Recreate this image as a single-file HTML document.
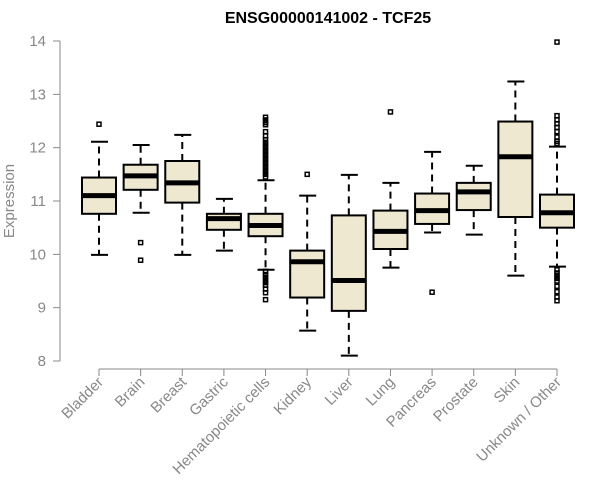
<!DOCTYPE html>
<html><head><meta charset="utf-8"><style>
body{margin:0;background:#fff;}
svg{display:block;font-family:"Liberation Sans",Arial,sans-serif;}
</style></head><body>
<svg id="chart" width="600" height="500">
<text x="328" y="23" text-anchor="middle" font-weight="bold" font-size="16">ENSG00000141002 - TCF25</text>
<text transform="translate(14,201) rotate(-90)" text-anchor="middle" font-size="15" fill="#888">Expression</text>
<g id="axes"></g><g id="boxes"></g>
</svg>
<script>
const categories=["Bladder","Brain","Breast","Gastric","Hematopoietic cells","Kidney","Liver","Lung","Pancreas","Prostate","Skin","Unknown / Other"];
const whiskerLow=[9.99,10.78,9.99,10.07,9.71,8.57,8.10,9.75,10.41,10.37,9.60,9.77];
const q1=[10.76,11.21,10.97,10.46,10.34,9.19,8.94,10.10,10.57,10.83,10.70,10.50];
const medians=[11.10,11.47,11.34,10.67,10.54,9.86,9.51,10.43,10.82,11.17,11.83,10.78];
const q3=[11.44,11.68,11.75,10.76,10.76,10.07,10.73,10.82,11.14,11.34,12.49,11.12];
const whiskerHigh=[12.11,12.05,12.24,11.04,11.39,11.10,11.49,11.34,11.92,11.66,13.24,12.02];
const outliers=[[12.44],[10.22,9.89],[],[],[12.57,12.52,12.47,12.43,12.3,12.22,12.15,12.1,12.05,12.0,11.95,11.9,11.85,11.8,11.75,11.7,11.65,11.6,11.55,11.5,11.45,9.68,9.62,9.57,9.52,9.47,9.42,9.35,9.28,9.15],[11.50],[],[12.67],[9.29],[],[],[13.98,12.6,12.52,12.45,12.38,12.3,12.2,12.12,12.08,9.71,9.65,9.6,9.55,9.5,9.4,9.3,9.2,9.13]];
const yTicks=[8,9,10,11,12,13,14];
const NS="http://www.w3.org/2000/svg";
const y=v=>361-(v-8)*320/6;
const x=i=>99+i*(557-99)/11;
function mk(tag,attrs,parent){const e=document.createElementNS(NS,tag);for(const k in attrs)e.setAttribute(k,attrs[k]);parent.appendChild(e);return e;}
const axes=document.getElementById('axes'),boxes=document.getElementById('boxes');
let a=mk('line',{x1:60,x2:60,y1:y(8),y2:y(14),stroke:'#888','stroke-width':1},axes);


yTicks.forEach(t=>{
  let l=mk('line',{x1:53,x2:60,y1:y(t),y2:y(t),stroke:'#888'},axes);
  
  
  let tx=mk('text',{x:46,y:y(t)+5,'text-anchor':'end','font-size':15,fill:'#888'},axes);
  tx.textContent=t;
  
  
});
a=mk('line',{x1:x(0),x2:x(11),y1:369,y2:369,stroke:'#888'},axes);


categories.forEach((c,i)=>{
  const cx=x(i),hw=17;
  let l=mk('line',{x1:cx,x2:cx,y1:369,y2:376,stroke:'#888'},axes);
  
  
  let tx=mk('text',{transform:`translate(${cx+5},${383}) rotate(-45)`,'text-anchor':'end','font-size':15,fill:'#888'},axes);
  tx.textContent=c;
  
  
  const g=mk('g',{},boxes);
  
  
  mk('line',{x1:cx,x2:cx,y1:y(q3[i]),y2:y(whiskerHigh[i]),stroke:'#000','stroke-width':2,'stroke-dasharray':'7,5'},g);
  mk('line',{x1:cx,x2:cx,y1:y(q1[i]),y2:y(whiskerLow[i]),stroke:'#000','stroke-width':2,'stroke-dasharray':'7,5'},g);
  mk('line',{x1:cx-8,x2:cx+9,y1:y(whiskerHigh[i]),y2:y(whiskerHigh[i]),stroke:'#000','stroke-width':2},g);
  mk('line',{x1:cx-8,x2:cx+9,y1:y(whiskerLow[i]),y2:y(whiskerLow[i]),stroke:'#000','stroke-width':2},g);
  mk('rect',{x:cx-hw,y:y(q3[i]),width:2*hw,height:y(q1[i])-y(q3[i]),fill:'#ede8cf',stroke:'#000','stroke-width':2},g);
  mk('line',{x1:cx-hw,x2:cx+hw,y1:y(medians[i]),y2:y(medians[i]),stroke:'#000','stroke-width':5},g);
  outliers[i].forEach(v=>{
    let r=mk('rect',{x:cx-2,y:y(v)-2,width:4,height:4,fill:'none',stroke:'#000','stroke-width':1.5},g);
    
    
  });
});
</script>
</body></html>
